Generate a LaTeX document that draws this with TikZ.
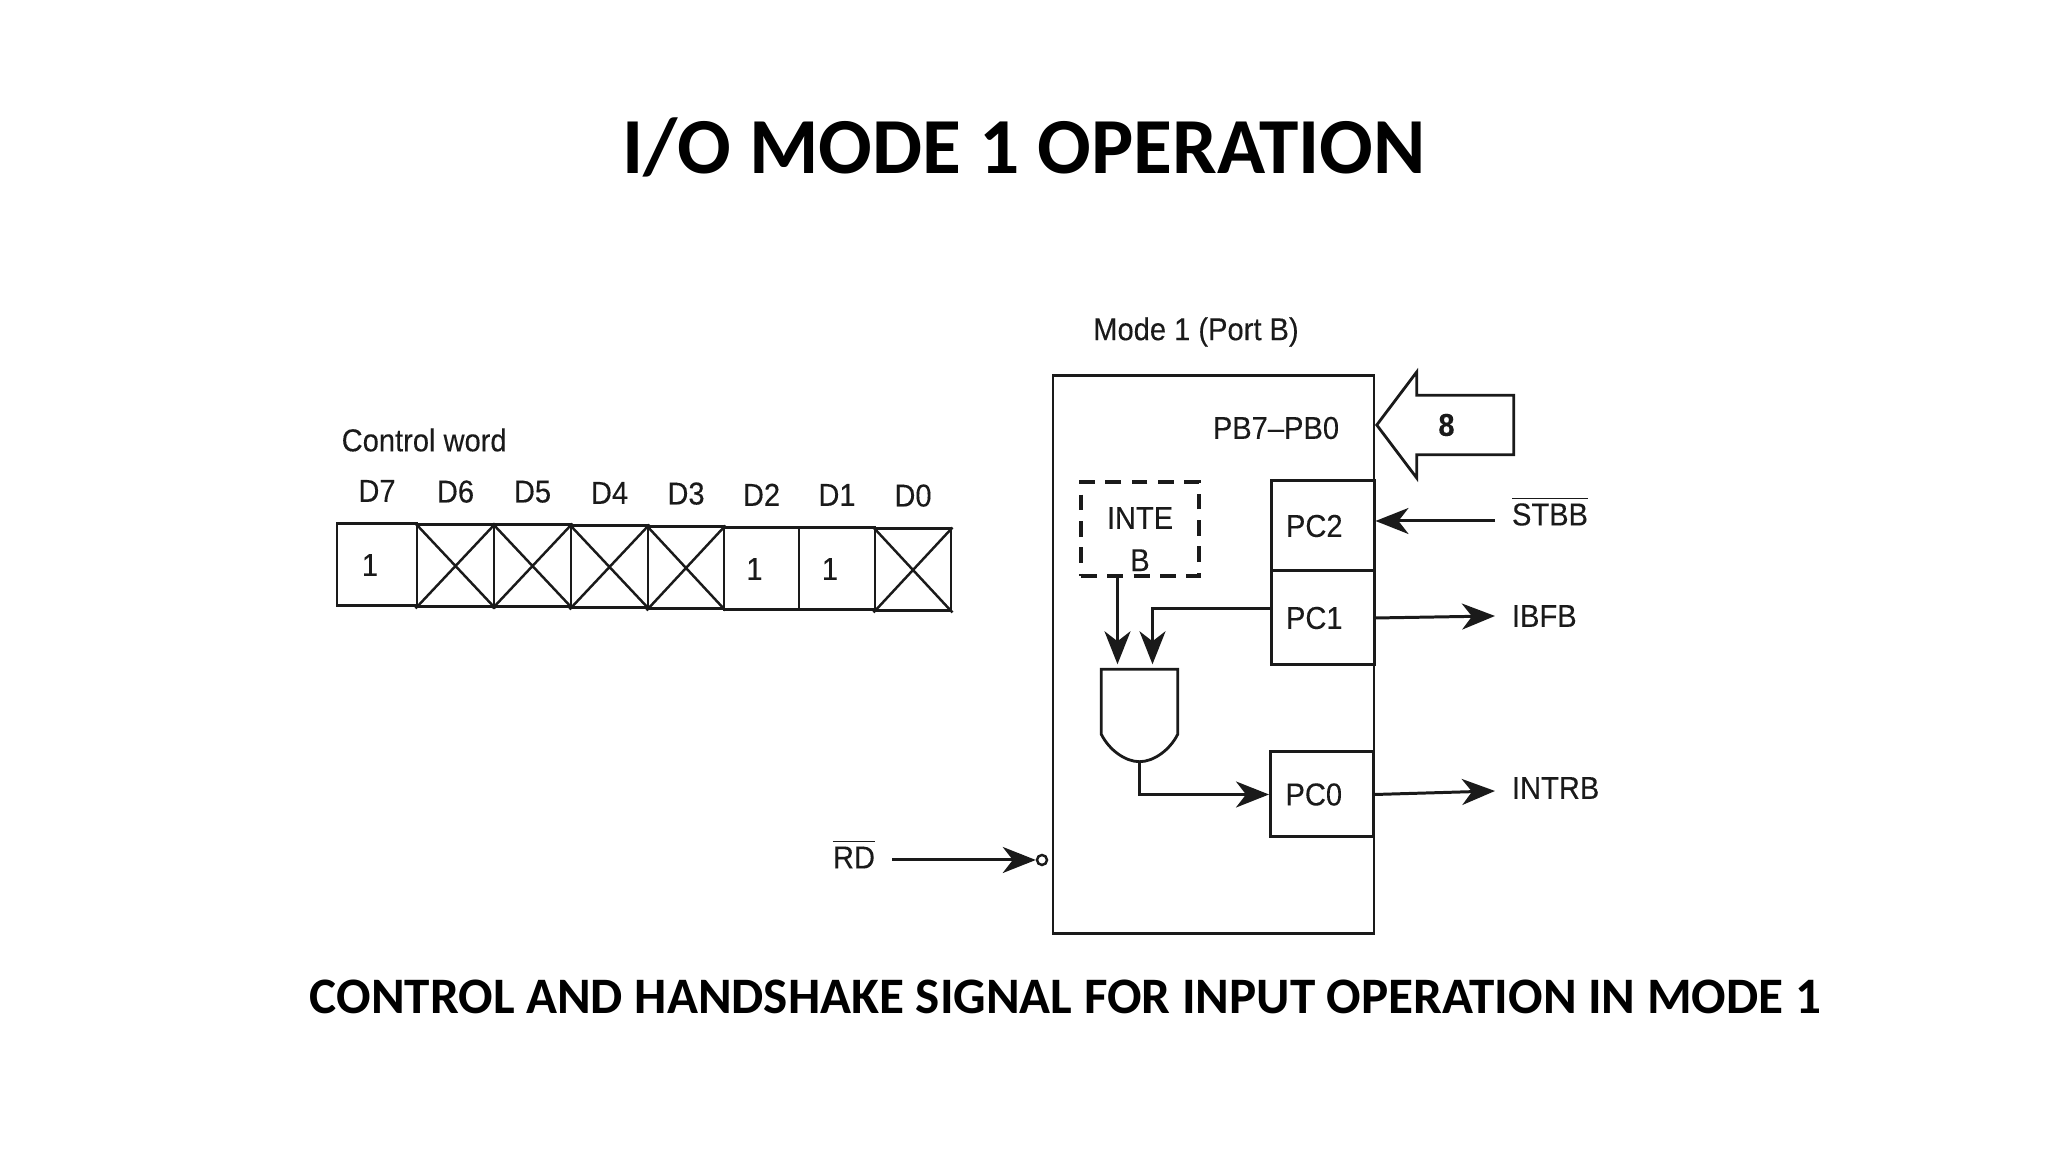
\documentclass[tikz,border=0pt]{standalone}
\usepackage{fontspec}
\setmainfont{Liberation Sans}
\newfontfamily\slidefont{Carlito}
\newfontfamily\scanfont[FakeStretch=0.92,FakeBold=0.2]{Liberation Sans}
\usetikzlibrary{positioning,calc,shapes.arrows,arrows.meta}

\definecolor{scanink}{HTML}{1A1A1A}

\tikzset{
  scantext/.style={font=\scanfont\fontsize{9}{12}\selectfont,text=scanink},
  siglabel/.style={scantext,inner sep=0pt,outer sep=.17cm},
  bitcell/.style={draw=scanink,line width=.85pt,scantext,inner sep=0pt,minimum height=.82cm},
  regbox/.style={draw=scanink,line width=.85pt,scantext,inner ysep=0pt,inner xsep=0pt,minimum width=1.03cm,text width=.73cm,align=left},
  sigline/.style={draw=scanink,line width=.85pt,-{Stealth[length=.33cm,width=.26cm,inset=.1cm]}},
  busarrow/.style={single arrow,draw=scanink,line width=.8pt,scantext,shape border rotate=180,inner xsep=.1cm,inner ysep=.17cm,
    minimum height=1.37cm,minimum width=1.06cm,single arrow head extend=.23cm,single arrow tip angle=106,single arrow head indent=0pt}
}

\begin{document}
\begin{tikzpicture}
\useasboundingbox (0,0) rectangle (20.48,11.52);

\node[font=\slidefont\bfseries\fontsize{22.6}{26}\selectfont] (title) at (10.24,10.045) {I/O MODE 1 OPERATION};
\node[font=\slidefont\bfseries\fontsize{14.55}{18}\selectfont] (caption) at (10.655,1.55) {CONTROL AND HANDSHAKE SIGNAL FOR INPUT OPERATION IN MODE 1};

% control word
\node[scantext,anchor=west,inner sep=0pt] (ctrl) at (3.41,7.12) {Control word};
\foreach \bit/\xc/\yc/\cw/\val in {7/3.77/5.87/.80/1,6/4.555/5.86/.77/,5/5.325/5.86/.77/,4/6.095/5.85/.77/,
                                   3/6.86/5.84/.76/,2/7.615/5.83/.75/1,1/8.37/5.83/.76/1,0/9.13/5.82/.76/}{
  \node[bitcell,minimum width=\cw cm] (cell\bit) at (\xc,\yc) {\val\kern4pt};
  \node[scantext,inner sep=0pt,above=.2cm of cell\bit] (bit\bit) {D\bit};
}
\foreach \bit in {6,5,4,3,0}{
  \draw[draw=scanink,line width=.7pt] (cell\bit.north west) -- (cell\bit.south east)
        (cell\bit.north east) -- (cell\bit.south west);
}

% port B
\node[scantext] (mode) at (11.96,8.2) {Mode 1 (Port B)};
\node[draw=scanink,line width=.85pt,minimum width=3.21cm,minimum height=5.58cm,inner sep=0pt] (port) at (12.135,4.97) {};
\node[scantext,inner sep=0pt] (pb) at (12.76,7.24) {PB7–PB0};
\node[busarrow,anchor=tip] (bus) at (13.75,7.27) {\textbf{8}\kern5.7pt};

\node[regbox,minimum height=.90cm] (pc2) at (13.225,6.26) {\raisebox{-.065cm}{PC2}};
\node[regbox,minimum height=.94cm] (pc1) at (13.225,5.34) {PC1};
\node[regbox,minimum height=.85cm] (pc0) at (13.22,3.575) {PC0};

\node[draw=scanink,line width=.9pt,dashed,dash pattern=on 4.5pt off 3pt,scantext,align=center,inner sep=0pt,
      minimum width=1.18cm,minimum height=.94cm] (inte) at (11.40,6.23) {\rule{0pt}{.42cm}INTE\\B};

% gate
\node[minimum width=.75cm,minimum height=.91cm,inner sep=0pt] (gate) at (11.395,4.365) {};
\draw[draw=scanink,line width=.8pt] (gate.north west) -- ++(0,-.65)
   .. controls +(.08,-.16) and +(-.14,0) .. (gate.south)
   .. controls +(.14,0) and +(-.08,-.16) .. ($(gate.north east)+(0,-.65)$) -- (gate.north east) -- cycle;
\coordinate (gin1) at ($(gate.north)+(-.22,.05)$);
\coordinate (gin2) at ($(gate.north)+(.13,.05)$);

\draw[sigline] (inte.south -| gin1) -- (gin1);
\draw[sigline] (pc1.west |- 0,5.43) -| (gin2);
\draw[sigline] (gate.south) |- (pc0.west);

% signals
\node[siglabel,anchor=west] (stbb) at (14.95,6.41) {$\overline{\mbox{STBB}}$};
\node[siglabel,anchor=west] (ibfb) at (14.95,5.36) {IBFB};
\node[siglabel,anchor=west] (intrb) at (14.95,3.64) {INTRB};
\node[siglabel,anchor=east] (rd) at (8.92,2.98) {$\overline{\mbox{RD}}$};
\node[draw=scanink,line width=.7pt,circle,inner sep=0pt,minimum size=.1cm] (bubble) at (10.42,2.92) {};
\coordinate (stbbin) at (14.95,6.31);
\coordinate (intrbout) at (14.95,3.61);

\draw[sigline] (stbbin) -- (stbbin -| pc2.east);
\draw[sigline] (pc1.east) -- (ibfb.west);
\draw[sigline] (pc0.east) -- (intrbout);
\draw[sigline] (rd.east |- bubble) -- (bubble.west);
\end{tikzpicture}
\end{document}
